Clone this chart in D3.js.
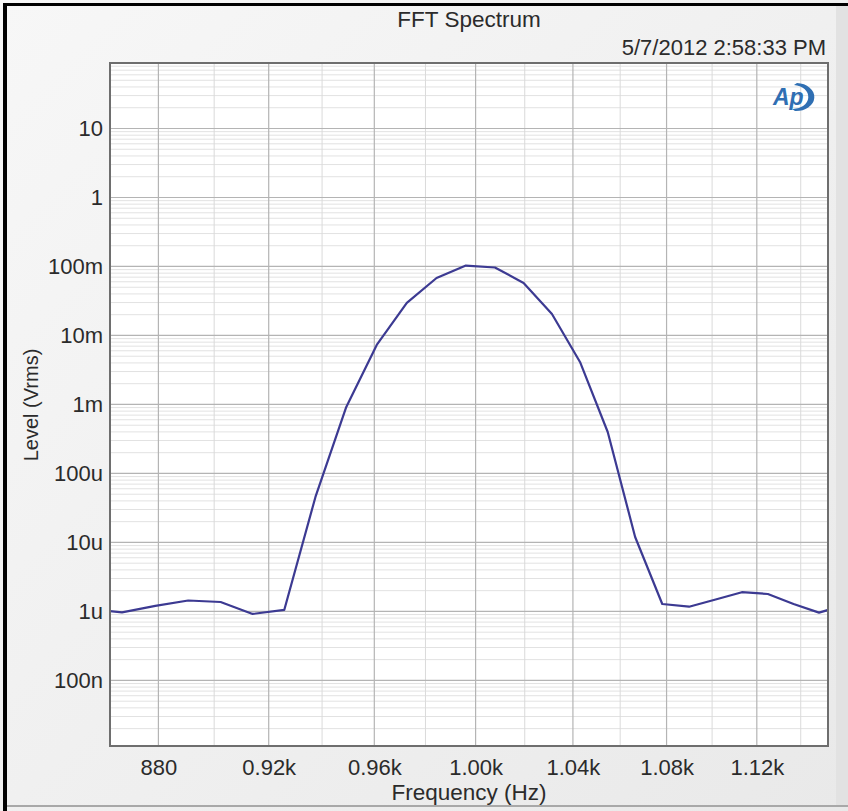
<!DOCTYPE html>
<html>
<head>
<meta charset="utf-8">
<script src="https://cdn.jsdelivr.net/npm/d3@7"></script>
<style>
  html, body { margin: 0; padding: 0; background: #ffffff; }
  svg text { font-family: "Liberation Sans", Arial, sans-serif; fill: #2b2b2b; }
</style>
</head>
<body>
<div id="chart"></div>
<script>
// FFT bins (Hz) and measured level (Vrms)
var freqs = [855.47, 867.19, 878.91, 890.63, 902.34, 914.06, 925.78, 937.50, 949.22,
    960.94, 972.66, 984.38, 996.09, 1007.81, 1019.53, 1031.25, 1042.97, 1054.69,
    1066.41, 1078.13, 1089.84, 1101.56, 1113.28, 1125.00, 1136.72, 1148.44, 1160.16];
var levels = [1.09e-6, 0.97e-6, 1.20e-6, 1.44e-6, 1.37e-6, 0.92e-6, 1.05e-6, 45.6e-6, 0.92e-3,
    7.28e-3, 29.6e-3, 68.1e-3, 103e-3, 96.7e-3, 57.7e-3, 20.5e-3, 4.13e-3, 0.399e-3,
    12.0e-6, 1.28e-6, 1.17e-6, 1.49e-6, 1.90e-6, 1.79e-6, 1.28e-6, 0.96e-6, 1.23e-6];

var xTicks = [880, 920, 960, 1000, 1040, 1080, 1120];
var xTickLabels = ["880", "0.92k", "0.96k", "1.00k", "1.04k", "1.08k", "1.12k"];
var xMinorGrid = [900, 940, 980, 1020, 1060, 1100, 1140];
var yTicks = [1e-7, 1e-6, 1e-5, 1e-4, 1e-3, 1e-2, 1e-1, 1, 10];
var yTickLabels = ["100n", "1u", "10u", "100u", "1m", "10m", "100m", "1", "10"];

var svgWidth = 848;
var svgHeight = 811;

var plot = { left: 110, right: 828, top: 63, bottom: 746 };
var width = plot.right - plot.left;
var height = plot.bottom - plot.top;

var svg = d3.select("#chart")
    .append("svg")
    .attr("width", svgWidth)
    .attr("height", svgHeight);

var defs = svg.append("defs");
var grad = defs.append("linearGradient")
    .attr("id", "bg")
    .attr("x1", 0).attr("y1", 0).attr("x2", 1).attr("y2", 1);
grad.append("stop").attr("offset", "0%").attr("stop-color", "#f7f7f7");
grad.append("stop").attr("offset", "100%").attr("stop-color", "#e9e9e9");

defs.append("clipPath").attr("id", "clip")
    .append("rect")
    .attr("width", width)
    .attr("height", height);

// window background
svg.append("rect")
    .attr("width", svgWidth)
    .attr("height", svgHeight)
    .attr("fill", "url(#bg)");
svg.append("rect")
    .attr("x", 836).attr("y", 6)
    .attr("width", 12).attr("height", 800)
    .attr("fill", "#e2e2e2");
svg.append("line")
    .attr("x1", 6).attr("x2", 848)
    .attr("y1", 806).attr("y2", 806)
    .attr("stroke", "#a8a8a8").attr("stroke-width", 2);
// black frame top / left
svg.append("rect").attr("x", 3).attr("y", 3).attr("width", 845).attr("height", 3).attr("fill", "#000");
svg.append("rect").attr("x", 3).attr("y", 3).attr("width", 4).attr("height", 808).attr("fill", "#000");

var chartGroup = svg.append("g")
    .attr("transform", `translate(${plot.left}, ${plot.top})`);

var xScale = d3.scaleLog()
    .domain([863, 1152.6])
    .range([0, width]);

var yScale = d3.scaleLog()
    .domain([1.12e-8, 89])
    .range([height, 0]);

chartGroup.append("rect")
    .attr("width", width)
    .attr("height", height)
    .attr("fill", "#ffffff");

// minor horizontal grid (2..9 per decade)
var yMinor = [];
for (var e = -8; e <= 1; e++) {
    for (var m = 2; m <= 9; m++) {
        var v = m * Math.pow(10, e);
        if (v > yScale.domain()[0] && v < yScale.domain()[1]) yMinor.push(v);
    }
}
chartGroup.selectAll("line.yminor")
    .data(yMinor)
    .enter()
    .append("line")
    .attr("x1", 0).attr("x2", width)
    .attr("y1", d => yScale(d)).attr("y2", d => yScale(d))
    .attr("stroke", "#e2e2e2")
    .attr("stroke-width", 1);

chartGroup.selectAll("line.xminor")
    .data(xMinorGrid)
    .enter()
    .append("line")
    .attr("x1", d => xScale(d)).attr("x2", d => xScale(d))
    .attr("y1", 0).attr("y2", height)
    .attr("stroke", "#dadada")
    .attr("stroke-width", 1);

chartGroup.selectAll("line.ymajor")
    .data(yTicks)
    .enter()
    .append("line")
    .attr("x1", 0).attr("x2", width)
    .attr("y1", d => yScale(d)).attr("y2", d => yScale(d))
    .attr("stroke", "#b4b4b4")
    .attr("stroke-width", 1.2);

chartGroup.selectAll("line.xmajor")
    .data(xTicks)
    .enter()
    .append("line")
    .attr("x1", d => xScale(d)).attr("x2", d => xScale(d))
    .attr("y1", 0).attr("y2", height)
    .attr("stroke", "#b4b4b4")
    .attr("stroke-width", 1.2);

// axes (labels only)
var xAxis = d3.axisBottom(xScale)
    .tickValues(xTicks)
    .tickFormat((d, i) => xTickLabels[i])
    .tickSize(0)
    .tickPadding(13);

var yAxis = d3.axisLeft(yScale)
    .tickValues(yTicks)
    .tickFormat((d, i) => yTickLabels[i])
    .tickSize(0)
    .tickPadding(7);

var gx = chartGroup.append("g")
    .attr("transform", `translate(0, ${height})`)
    .call(xAxis);
var gy = chartGroup.append("g")
    .call(yAxis);
[gx, gy].forEach(g => {
    g.select(".domain").remove();
    g.selectAll("text")
        .attr("font-size", "22px")
        .attr("font-family", "Liberation Sans, Arial, sans-serif")
        .attr("fill", "#2b2b2b");
});

// the spectrum trace
var points = freqs.map((f, i) => ({ f: f, v: levels[i] }));
var line = d3.line()
    .x(d => xScale(d.f))
    .y(d => yScale(d.v));

chartGroup.append("path")
    .datum(points)
    .attr("clip-path", "url(#clip)")
    .attr("fill", "none")
    .attr("stroke", "#3c3a92")
    .attr("stroke-width", 2.2)
    .attr("stroke-linejoin", "round")
    .attr("d", line);

// plot frame
chartGroup.append("rect")
    .attr("width", width)
    .attr("height", height)
    .attr("fill", "none")
    .attr("stroke", "#6e6e6e")
    .attr("stroke-width", 2);

// AP logo
var logo = chartGroup.append("g")
    .attr("transform", `translate(${width - 45}, 34)`);
logo.append("path")
    .attr("d", "M 14 -14 A 17 13 0 0 1 12 14 L 9 12 A 14 11 0 0 0 11 -12 Z")
    .attr("fill", "#2f6fb3");
logo.append("text")
    .attr("x", -10)
    .attr("y", 8)
    .attr("font-size", "23px")
    .attr("font-weight", "bold")
    .attr("font-style", "italic")
    .style("fill", "#2f6fb3")
    .text("Ap");

// titles
svg.append("text")
    .attr("x", 469)
    .attr("y", 27)
    .attr("text-anchor", "middle")
    .attr("font-size", "22.5px")
    .text("FFT Spectrum");

svg.append("text")
    .attr("x", 826)
    .attr("y", 55)
    .attr("text-anchor", "end")
    .attr("font-size", "22px")
    .text("5/7/2012 2:58:33 PM");

svg.append("text")
    .attr("x", 469)
    .attr("y", 800)
    .attr("text-anchor", "middle")
    .attr("font-size", "22.5px")
    .text("Frequency (Hz)");

svg.append("text")
    .attr("transform", "rotate(-90)")
    .attr("x", -405)
    .attr("y", 38)
    .attr("text-anchor", "middle")
    .attr("font-size", "20px")
    .text("Level (Vrms)");
</script>
</body>
</html>
